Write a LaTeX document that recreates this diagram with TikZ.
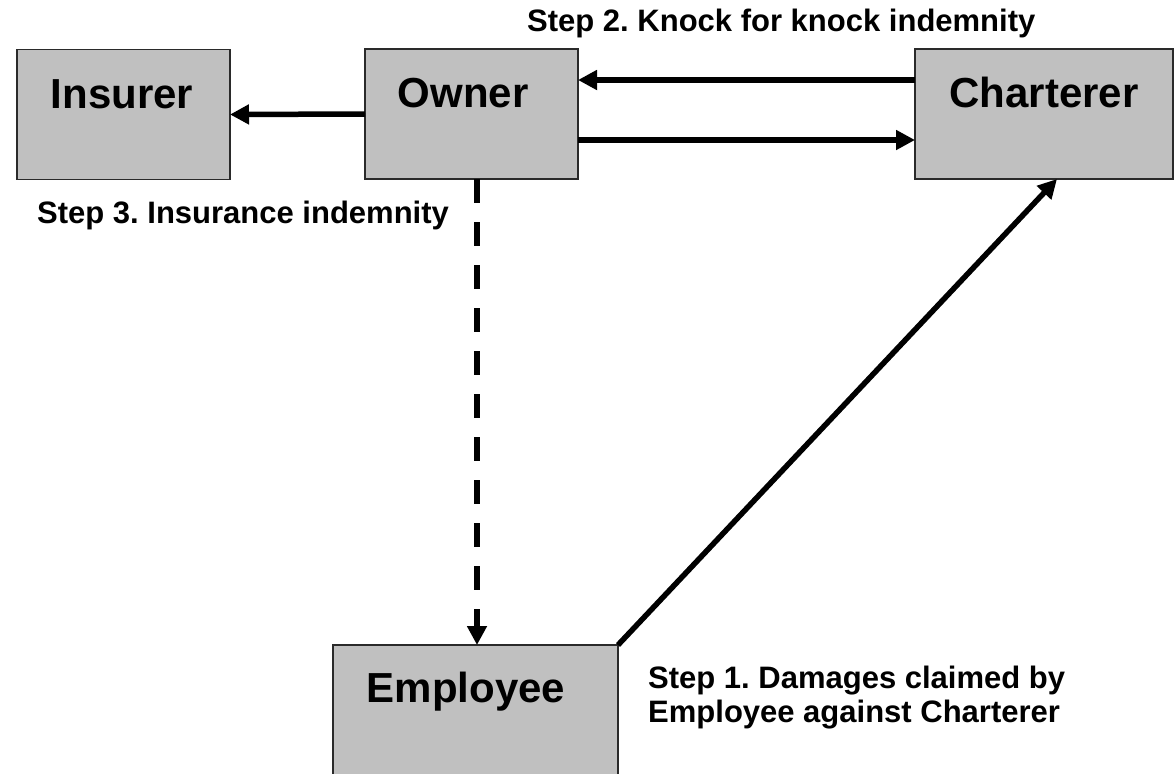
\documentclass[tikz,border=0pt]{standalone}
\usepackage{fontspec}
\setmainfont{Liberation Sans}
\usetikzlibrary{arrows.meta}
\definecolor{boxgray}{HTML}{C0C0C0}
\definecolor{boxline}{HTML}{2A2A2A}
\frenchspacing
\begin{document}
\begin{tikzpicture}[x=1pt,y=-1pt,
  box/.style={draw=boxline,line width=1.5pt,fill=boxgray,inner sep=0pt,outer sep=0pt},
  boxlabel/.style={anchor=base,inner sep=0pt,font=\fontsize{42pt}{46pt}\selectfont\bfseries},
  steplabel/.style={inner sep=0pt,font=\fontsize{31pt}{34pt}\selectfont\bfseries,align=left},
  arr/.style={line width=5.5pt,-{Triangle[length=19pt,width=19pt]}},
  dasharr/.style={arr,dash pattern=on 24pt off 19pt}]
\useasboundingbox (0,0) rectangle (1176,774);
% boxes
\node[box,minimum width=213pt,minimum height=130pt] (ins) at (123.5,114.5) {};
\node[box,minimum width=213pt,minimum height=130pt] (own) at (471.5,114) {};
\node[box,minimum width=258pt,minimum height=130pt] (char) at (1044,114) {};
\node[box,minimum width=285pt,minimum height=160pt] (emp) at (475.5,725) {};
% box texts
\node[boxlabel] (tins) at (122,108) {Insurer};
\node[boxlabel] (town) at (463,107) {Owner};
\node[boxlabel] (tchar) at (1044,107) {Charterer};
\node[boxlabel] (temp) at (466,702) {Employee};
% connectors
\draw[arr] (own.west) -- (ins.east);
\draw[arr] ([yshift=34pt]char.west) -- ([yshift=34pt]own.east);
\draw[arr] ([yshift=-26pt]own.east) -- ([yshift=-26pt]char.west);
\draw[dasharr] ([xshift=5.5pt]own.south) -- ([xshift=5.5pt]own.south |- emp.north);
\draw[arr] (emp.north east) -- ([xshift=13pt]char.south);
% step labels
\node[steplabel,anchor=base west] (s2) at (527,31) {Step 2. Knock for knock indemnity};
\node[steplabel,anchor=base west] (s3) at (37,223) {Step 3. Insurance indemnity};
\node[steplabel,anchor=north west] (s1) at (648,666) {Step 1. Damages claimed by\\Employee against Charterer};
\end{tikzpicture}
\end{document}
